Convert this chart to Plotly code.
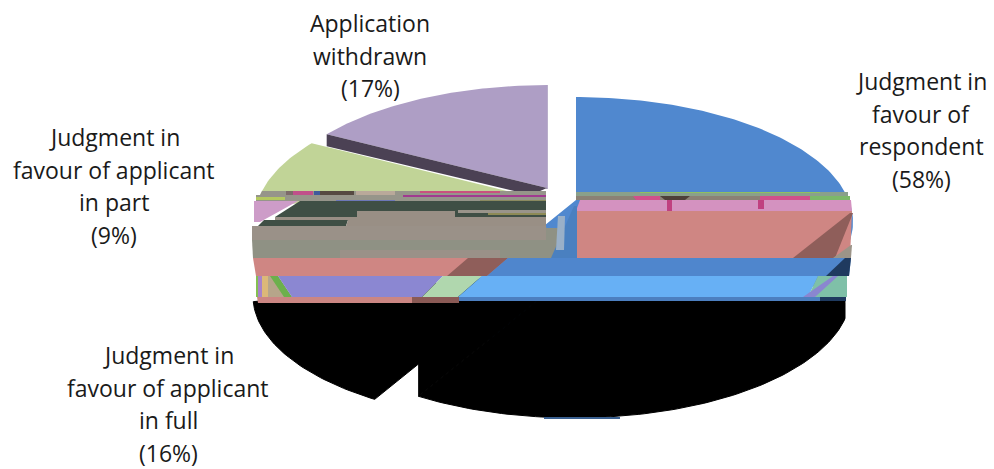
import math
import plotly.graph_objects as go

# Outcome shares, clockwise from twelve o'clock
categories = ["Judgment in favour of respondent", "Judgment in favour of applicant in full",
              "Judgment in favour of applicant in part", "Application withdrawn"]
values = [58, 16, 9, 17]

# Label text, one list of lines per outcome (the share is appended when drawn)
label_lines = [["Judgment in", "favour of", "respondent"],
               ["Judgment in", "favour of applicant", "in full"],
               ["Judgment in", "favour of applicant", "in part"],
               ["Application", "withdrawn"]]
label_centre_x = [921, 168, 114, 370]
label_first_y = [81, 355, 137, 23]
LINE_STEP = 32.7

# Projection of the tilted disc
RX, RY, PERSP = 272.7, 121.0, 0.176

# Slice faces: colour and the pixel position of each slice's apex
face_colors = ["#5088cf", None, "#c1d497", "#ae9ec5"]
face_apex = [(576, 200), None, (532, 197), (547, 188)]

# Dark lower faces of the two front slices
lower_color = "#000000"
lower_apex = [(574, 271), (530, 274)]
LOWER_TOP = 300
LOWER_RIGHT = 845
WALL_DROP = 45

# Horizontal strips of the body: top, bottom, x0 at top, x1 at top, x0 at bottom, x1 at bottom, colour
strips_left = [
    (191, 195, 262, 546, 260, 546, "#96958a"),
    (191, 195, 286, 293, 286, 293, "#7d6a6a"),
    (191, 195, 293, 313, 293, 313, "#c0508a"),
    (191, 195, 314, 320, 314, 320, "#3f5a9c"),
    (191, 195, 320, 354, 320, 354, "#564a42"),
    (191, 195, 356, 395, 356, 395, "#b9a99a"),
    (191, 193, 420, 500, 420, 500, "#c9517f"),
    (195, 201, 256, 546, 256, 546, "#96958a"),
    (195, 197, 403, 546, 403, 546, "#a03a90"),
    (197, 200, 256, 285, 256, 285, "#b4c860"),
    (200, 203, 336, 395, 336, 395, "#6d78b8"),
    (200, 203, 480, 546, 480, 546, "#8a8a60"),
    (201, 217, 300, 546, 275, 546, "#3f4f45"),
    (211, 217, 357, 455, 357, 455, "#998f85"),
    (210, 213, 458, 546, 458, 546, "#99948a"),
    (213, 215, 488, 546, 488, 546, "#8d8a55"),
    (217, 220, 275, 546, 275, 546, "#998f85"),
    (220, 226, 264, 348, 258, 346, "#3f4f45"),
    (220, 226, 348, 546, 346, 546, "#998f85"),
    (201, 222, 254, 298, 254, 260, "#cd9cc8"),
    (226, 240, 252, 546, 252, 548, "#9a9188"),
    (240, 258, 252, 548, 253, 548, "#8f9184"),
    (250, 258, 340, 500, 340, 500, "#9a9188"),
    (228, 258, 546, 565, 546, 552, "#8f9184"),
    (258, 276, 253, 508, 256, 487, "#cf8683"),
    (258, 276, 468, 508, 447, 487, "#8f5e5a"),
    (276, 297, 256, 278, 257, 292, "#b6a58a"),
    (276, 297, 256, 258, 256, 258, "#84c050"),
    (276, 297, 258, 262, 258, 262, "#a883c8"),
    (276, 297, 262, 268, 262, 268, "#dcb878"),
    (276, 297, 270, 278, 284, 292, "#6cb04c"),
    (276, 297, 278, 443, 292, 422, "#8b87d2"),
    (276, 297, 443, 482, 422, 458, "#b0d7ae"),
    (297, 303, 257, 412, 258, 412, "#cb8683"),
    (297, 303, 412, 459, 412, 459, "#8a5a55"),
]
strips_right = [
    (192, 196, 576, 848, 576, 848, "#8aa08a"),
    (192, 193, 640, 820, 640, 820, "#8fc060"),
    (196, 200, 576, 850, 576, 850, "#8b8175"),
    (196, 200, 633, 660, 636, 660, "#d0508a"),
    (196, 200, 660, 690, 665, 685, "#4e4038"),
    (196, 200, 760, 810, 760, 810, "#d0508a"),
    (196, 200, 810, 850, 810, 850, "#7cb868"),
    (200, 211, 580, 851, 576, 852, "#d492c0"),
    (200, 211, 667, 672, 667, 672, "#c04080"),
    (200, 209, 758, 764, 758, 764, "#c04080"),
    (211, 258, 576, 852, 576, 850, "#cf8683"),
    (213, 258, 850, 853, 793, 835, "#8f5e5a"),
    (245, 258, 851, 852, 833, 851, "#9c9488"),
    (206, 258, 574, 577, 551, 577, "#4a80c0"),
    (216, 250, 558, 565, 556, 564, "#9ab0c8"),
]
strips_lower = [
    (258, 276, 508, 851, 487, 849, "#4f86cd"),
    (258, 276, 845, 851, 826, 849, "#1f3a5f"),
    (276, 297, 482, 818, 458, 808, "#67b0f5"),
    (276, 297, 818, 847, 808, 847, "#7fc0a8"),
    (276, 297, 833, 838, 803, 815, "#8a86d0"),
    (297, 301, 459, 846, 459, 846, "#4c7fc0"),
    (297, 301, 820, 846, 820, 846, "#1f3a5f"),
    (417, 419, 544, 620, 544, 620, "#3a6090"),
]


def project(theta_deg):
    """Offset from the apex of a rim point on the tilted, foreshortened disc."""
    t = math.radians(theta_deg)
    w = 1 + PERSP * math.cos(t)
    return RX * math.sin(t) / w, -RY * math.cos(t) / w


def slice_outline(start, end, apex, min_y=None, max_x=None):
    steps = max(8, int(abs(end - start)))
    xs, ys = [apex[0]], [apex[1]]
    for i in range(steps + 1):
        dx, dy = project(start + (end - start) * i / steps)
        x, y = apex[0] + dx, apex[1] + dy
        if min_y is not None and y < min_y:
            continue
        xs.append(min(x, max_x) if max_x is not None else x)
        ys.append(y)
    xs.append(apex[0])
    ys.append(apex[1])
    return xs, ys


def polygon(fig, xs, ys, color, edge=0):
    fig.add_trace(go.Scatter(x=xs, y=ys, mode="lines", fill="toself", fillcolor=color,
                             line=dict(width=edge, color=color), hoverinfo="skip", showlegend=False))


angles = [0]
for v in values:
    angles.append(angles[-1] + v * 3.6)

fig = go.Figure()

# Top faces
for i in (2, 3, 0):
    polygon(fig, *slice_outline(angles[i], angles[i + 1], face_apex[i]), face_colors[i])

# Dark lower faces of the respondent and full-judgment slices, with the cut wall between them
polygon(fig, *slice_outline(angles[0], angles[1], lower_apex[0], LOWER_TOP, LOWER_RIGHT), lower_color, 1)
polygon(fig, *slice_outline(angles[1], angles[2], lower_apex[1], LOWER_TOP), lower_color, 1)
ex, ey = project(angles[1])
ax, ay = lower_apex[0]
polygon(fig, [ax + ex, ax + ex, ax, ax, ax + ex],
        [ay + ey, ay + ey - WALL_DROP, ay - WALL_DROP, ay, ay + ey], lower_color, 1)

# Cut wall of the withdrawn slice
ex, ey = project(angles[3])
ax, ay = face_apex[3]
polygon(fig, [ax + ex, ax + ex, ax - 16, ax, ax + ex],
        [ay + ey, ay + ey + 12, ay + 7, ay, ay + ey], "#4b4154")

# Edge shading along the right of the withdrawn slice
fig.add_trace(go.Bar(x=[2], base=[546], y=[137], width=[104], orientation="h",
                     marker=dict(color="#b9aecb", line=dict(width=0)),
                     hoverinfo="skip", showlegend=False))

# Body strips
for top, bottom, x0t, x1t, x0b, x1b, color in strips_left + strips_right + strips_lower:
    polygon(fig, [x0t, x1t, x1b, x0b, x0t], [top, top, bottom, bottom, top], color)

# Labels
annotations = []
for lines, value, cx, y0 in zip(label_lines, values, label_centre_x, label_first_y):
    for k, text in enumerate(lines + [f"({value}%)"]):
        annotations.append(dict(x=cx, y=y0 + k * LINE_STEP, text=text, showarrow=False,
                                xanchor="center", yanchor="middle",
                                font=dict(family="Open Sans", size=23, color="#1a1a1a")))

fig.update_layout(
    width=994, height=469, margin=dict(l=0, r=0, t=0, b=0, pad=0),
    paper_bgcolor="white", plot_bgcolor="white", showlegend=False, autosize=False,
    xaxis=dict(range=[0, 994], visible=False, fixedrange=True),
    yaxis=dict(range=[469, 0], visible=False, fixedrange=True),
    annotations=annotations,
)
fig.write_html("out.html", config={"displayModeBar": False})
